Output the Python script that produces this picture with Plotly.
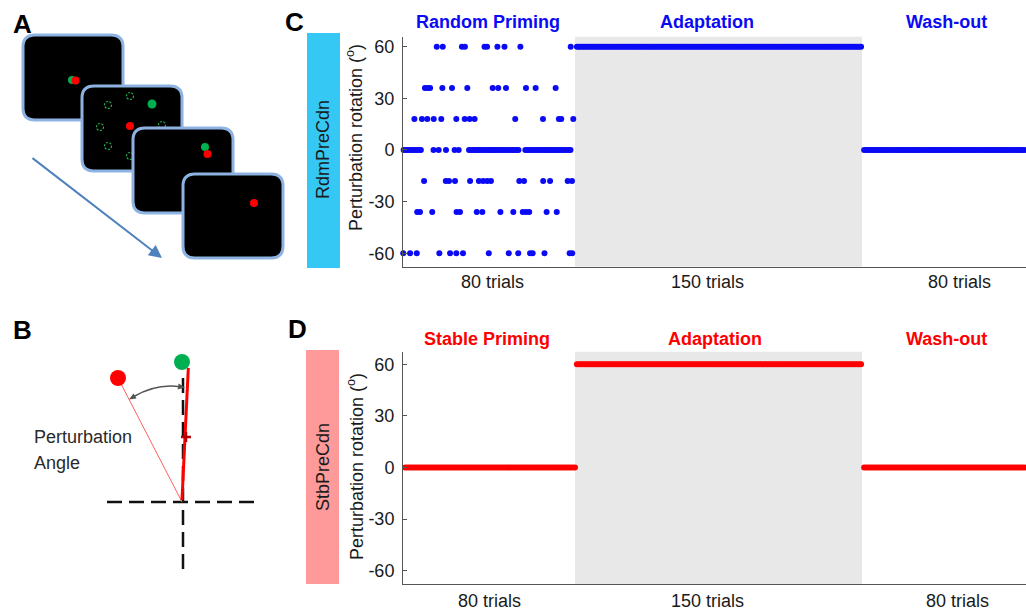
import math
import plotly.graph_objects as go

W, H = 1026, 612


def X(x):
    return x / W


def Y(y):
    return 1 - y / H


# ---------------- DATA ----------------
phase_titles_rdm = ["Random Priming", "Adaptation", "Wash-out"]
phase_titles_stb = ["Stable Priming", "Adaptation", "Wash-out"]
phase_trials = [80, 150, 80]
trial_labels = ["80 trials", "150 trials", "80 trials"]
y_ticks = [-60, -30, 0, 30, 60]

# Random priming: trial positions of dots at each perturbation level
rdm_levels = [60, 36, 18, 0, -18, -36, -60]
rdm_pos_p60 = [15.7, 18.5, 27.4, 28.8, 37.9, 39.1, 43.9, 47.2, 54.6, 78.0]
rdm_pos_p36 = [10.2, 11.4, 12.6, 18.3, 22.8, 29.9, 41.7, 44.3, 47.9, 57.2, 61.7, 71.0]
rdm_pos_p18 = [5.3, 8.8, 11.3, 14.3, 17.8, 24.8, 28.7, 31.0, 33.3, 52.2, 65.1, 72.5,
               73.6, 79.2]
rdm_pos_0 = [0.3, 1.3, 2.3, 3.3, 4.3, 5.3, 6.3, 7.3, 8.3, 14.2, 16.6, 20.0, 24.0, 25.9,
             30.7, 31.7, 32.7, 33.7, 34.7, 35.7, 36.7, 37.7, 38.7, 39.7, 40.7, 41.7,
             42.7, 43.7, 44.7, 45.7, 46.7, 47.7, 48.7, 49.7, 50.7, 51.7, 52.7, 53.7,
             56.9, 57.9, 58.9, 59.9, 60.9, 61.9, 62.9, 63.9, 64.9, 65.9, 66.9, 67.9,
             68.9, 69.9, 70.9, 71.9, 72.9, 73.9, 74.9, 75.9, 76.9, 77.9]
rdm_pos_m18 = [9.8, 19.9, 21.4, 24.2, 31.2, 35.3, 37.3, 39.2, 40.9, 54.1, 56.3, 65.2,
               68.4, 76.6, 78.6]
rdm_pos_m36 = [6.6, 7.9, 13.6, 24.9, 26.5, 34.3, 36.9, 45.3, 51.3, 55.7, 57.2, 58.7,
               66.8, 71.5]
rdm_pos_m60 = [0.1, 3.3, 6.4, 16.9, 21.9, 24.8, 27.9, 39.9, 49.2, 53.6, 59.1, 60.3,
               65.8, 77.5, 78.7]
rdm_positions = [rdm_pos_p60, rdm_pos_p36, rdm_pos_p18, rdm_pos_0,
                 rdm_pos_m18, rdm_pos_m36, rdm_pos_m60]

rdm_adapt = [60] * 150
rdm_wash = [0] * 80
stb_prime = [0] * 80
stb_adapt = [60] * 150
stb_wash = [0] * 80

BLUE = "#0A0AF5"
RED = "#FF0000"
TXT = "#1a1a1a"
FONT = "Liberation Sans, Arial, sans-serif"
AX = "#555555"

fig = go.Figure()

# ---------------- traces ----------------
mk = dict(size=6, line=dict(width=0))
for lvl, pos in zip(rdm_levels, rdm_positions):
    fig.add_trace(go.Scatter(x=pos, y=[lvl] * len(pos), mode="markers",
                             marker=dict(color=BLUE, **mk), xaxis="x", yaxis="y",
                             cliponaxis=False, showlegend=False))
fig.add_trace(go.Scatter(x=list(range(1, len(rdm_adapt) + 1)), y=rdm_adapt, mode="markers",
                         marker=dict(color=BLUE, **mk), xaxis="x2", yaxis="y",
                         cliponaxis=False, showlegend=False))
fig.add_trace(go.Scatter(x=list(range(1, len(rdm_wash) + 1)), y=rdm_wash, mode="markers",
                         marker=dict(color=BLUE, **mk), xaxis="x3", yaxis="y",
                         cliponaxis=False, showlegend=False))
fig.add_trace(go.Scatter(x=list(range(1, len(stb_prime) + 1)), y=stb_prime, mode="markers",
                         marker=dict(color=RED, **mk), xaxis="x4", yaxis="y2",
                         cliponaxis=False, showlegend=False))
fig.add_trace(go.Scatter(x=list(range(1, len(stb_adapt) + 1)), y=stb_adapt, mode="markers",
                         marker=dict(color=RED, **mk), xaxis="x5", yaxis="y2",
                         cliponaxis=False, showlegend=False))
fig.add_trace(go.Scatter(x=list(range(1, len(stb_wash) + 1)), y=stb_wash, mode="markers",
                         marker=dict(color=RED, **mk), xaxis="x6", yaxis="y2",
                         cliponaxis=False, showlegend=False))

# ---------------- axes ----------------
xdoms = [[X(403), X(575)], [X(575), X(862)], [X(862), 1.0]]
xranges = [[0, phase_trials[0]], [0, phase_trials[1] + 0.5], [0, phase_trials[2] - 3.4]]

xcommon = dict(showline=True, linecolor=AX, linewidth=1, showticklabels=False,
               ticks="", showgrid=False, zeroline=False, fixedrange=True)
ycommon = dict(showline=True, linecolor=AX, linewidth=1, ticks="inside", ticklen=4,
               tickcolor=AX, tickvals=y_ticks, ticktext=[str(v) for v in y_ticks],
               tickfont=dict(size=18, color=TXT, family=FONT), showgrid=False,
               zeroline=False, ticklabelstandoff=4, fixedrange=True)

layout_axes = {}
for i in range(3):
    layout_axes["xaxis" + ("" if i == 0 else str(i + 1))] = dict(
        domain=xdoms[i], range=xranges[i], anchor="y", **xcommon)
    layout_axes["xaxis" + str(i + 4)] = dict(
        domain=xdoms[i], range=xranges[i], anchor="y2", **xcommon)
layout_axes["yaxis"] = dict(domain=[Y(266.7), Y(36.7)], range=[-67.8, 65.8],
                            anchor="x", **ycommon)
layout_axes["yaxis2"] = dict(domain=[Y(584), Y(351.7)], range=[-67.7, 67.3],
                             anchor="x4", **ycommon)

shapes = []
# gray adaptation backgrounds
for xa, ya in [("x2", "y"), ("x5", "y2")]:
    shapes.append(dict(type="rect", xref=xa + " domain", yref=ya + " domain",
                       x0=0, x1=1, y0=0, y1=1, fillcolor="#E8E8E8",
                       line=dict(width=0), layer="below"))

# side colour bars
shapes.append(dict(type="rect", xref="paper", yref="paper", x0=X(307), x1=X(340),
                   y0=Y(268), y1=Y(33), fillcolor="#36C8F4", line=dict(width=0)))
shapes.append(dict(type="rect", xref="paper", yref="paper", x0=X(306), x1=X(339),
                   y0=Y(584), y1=Y(350), fillcolor="#FF9A9A", line=dict(width=0)))


# ---------------- panel A drawing ----------------
def rrect(x0, y0, x1, y1, r):
    p = (f"M {X(x0 + r)},{Y(y0)} L {X(x1 - r)},{Y(y0)} "
         f"Q {X(x1)},{Y(y0)} {X(x1)},{Y(y0 + r)} L {X(x1)},{Y(y1 - r)} "
         f"Q {X(x1)},{Y(y1)} {X(x1 - r)},{Y(y1)} L {X(x0 + r)},{Y(y1)} "
         f"Q {X(x0)},{Y(y1)} {X(x0)},{Y(y1 - r)} L {X(x0)},{Y(y0 + r)} "
         f"Q {X(x0)},{Y(y0)} {X(x0 + r)},{Y(y0)} Z")
    return dict(type="path", xref="paper", yref="paper", path=p, fillcolor="black",
                line=dict(color="#8DB3E2", width=3))


def circ(cx, cy, r, fill, line=None):
    return dict(type="circle", xref="paper", yref="paper", x0=X(cx - r), x1=X(cx + r),
                y0=Y(cy + r), y1=Y(cy - r), fillcolor=fill,
                line=line if line else dict(width=0))


def seg(x0, y0, x1, y1, color, width, dash=None):
    ln = dict(color=color, width=width)
    if dash:
        ln["dash"] = dash
    return dict(type="line", xref="paper", yref="paper", x0=X(x0), y0=Y(y0),
                x1=X(x1), y1=Y(y1), line=ln)


def head(tx, ty, dx, dy, length=7, half=3, color="#555555"):
    n = math.hypot(dx, dy)
    dx, dy = dx / n, dy / n
    bx, by = tx - length * dx, ty - length * dy
    nx, ny = -dy, dx
    p = (f"M {X(tx)},{Y(ty)} L {X(bx + half * nx)},{Y(by + half * ny)} "
         f"L {X(bx - half * nx)},{Y(by - half * ny)} Z")
    return dict(type="path", xref="paper", yref="paper", path=p, fillcolor=color,
                line=dict(width=0))


GREEN = "#00B050"
ring = dict(color="#22B14C", width=1.2, dash="2px,1.5px")

shapes.append(rrect(23, 35, 123, 120, 12))
shapes.append(circ(72, 80, 4, GREEN))
shapes.append(circ(75.5, 80.5, 4, RED))

shapes.append(rrect(82, 86, 182, 171, 12))
for cx, cy in [(130, 96), (108, 105), (100, 127), (162, 125), (108, 146), (130, 156)]:
    shapes.append(circ(cx, cy, 3.5, "rgba(0,0,0,0)", ring))
shapes.append(circ(152, 104, 4.5, GREEN))
shapes.append(circ(130, 126, 4, RED))

shapes.append(rrect(133, 128, 233, 213, 12))
shapes.append(circ(205, 147, 4, GREEN))
shapes.append(circ(207.5, 154, 4, RED))

shapes.append(rrect(183, 174, 283, 258, 12))
shapes.append(circ(254, 203, 4, RED))

# ---------------- panel B drawing ----------------
shapes.append(seg(107, 502, 258, 502, "#111111", 2.5, "15px,7px"))
shapes.append(seg(183, 378, 183, 573, "#111111", 2.5, "15px,7px"))
shapes.append(seg(118, 378, 182, 502, "#FF6060", 1))
shapes.append(seg(188.3, 368, 182, 500, RED, 3))
shapes.append(circ(182, 362, 8, GREEN))
shapes.append(circ(118, 378, 8, RED))
shapes.append(seg(181, 437, 191, 437, "#B00000", 2.5))
shapes.append(seg(186, 432, 186, 442, "#B00000", 2.5))
P0, C, P2 = (133, 397), (157, 383), (181, 387)
shapes.append(dict(type="path", xref="paper", yref="paper",
                   path=f"M {X(P0[0])},{Y(P0[1])} Q {X(C[0])},{Y(C[1])} {X(P2[0])},{Y(P2[1])}",
                   line=dict(color="#555555", width=1.5)))
shapes.append(head(129, 399.5, P0[0] - C[0], P0[1] - C[1]))
shapes.append(head(185, 387.6, P2[0] - C[0], P2[1] - C[1]))

# ---------------- annotations ----------------
ann = []


def text(x, y, s, size=18, color=TXT, bold=False, angle=0, xanchor="center"):
    ann.append(dict(x=X(x), y=Y(y), xref="paper", yref="paper",
                    text=f"<b>{s}</b>" if bold else s, showarrow=False,
                    textangle=angle, xanchor=xanchor, yanchor="middle",
                    font=dict(size=size, color=color, family=FONT)))


for s, x in zip(phase_titles_rdm, [488, 707, 946]):
    text(x, 22, s, color=BLUE, bold=True)
for s, x in zip(phase_titles_stb, [487, 715, 946]):
    text(x, 339, s, color=RED, bold=True)
for s, x in zip(trial_labels, [492, 707, 959]):
    text(x, 282, s)
for s, x in zip(trial_labels, [489, 707, 957]):
    text(x, 601, s)

text(323, 150, "RdmPreCdn", angle=-90)
text(323, 467, "StbPreCdn", angle=-90)
text(355, 138, "Perturbation rotation (<sup>o</sup>)", angle=-90)
text(355, 467, "Perturbation rotation (<sup>o</sup>)", angle=-90)

text(22, 24, "A", size=26, color="black", bold=True)
text(22, 330, "B", size=26, color="black", bold=True)
text(294, 22, "C", size=26, color="black", bold=True)
text(297, 329, "D", size=26, color="black", bold=True)

text(32, 437, "Perturbation", size=18, color="#2a2a2a", xanchor="left")
text(32, 463, "Angle", size=18, color="#2a2a2a", xanchor="left")

# blue arrow in panel A
ann.append(dict(x=X(162), y=Y(258), xref="paper", yref="paper", text="",
                showarrow=True, ax=31 - 162, ay=157 - 258, arrowcolor="#4F81BD",
                arrowwidth=2, arrowhead=2, arrowsize=1.3, standoff=0))

fig.update_layout(
    width=W, height=H, margin=dict(l=0, r=0, t=0, b=0, pad=0),
    paper_bgcolor="white", plot_bgcolor="white", showlegend=False,
    shapes=shapes, annotations=ann, font=dict(family=FONT), **layout_axes)

fig.write_html("out.html", config={"displayModeBar": False, "staticPlot": True},
               post_script="document.body.style.margin='0px';"
                           "document.body.style.overflow='hidden';")
